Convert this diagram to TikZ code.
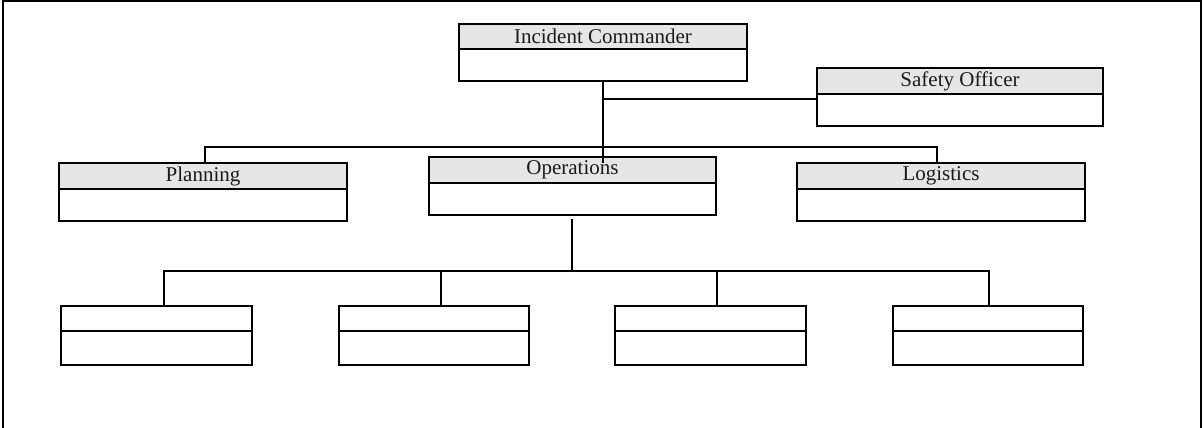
\documentclass[tikz,border=0pt]{standalone}
\usepackage{fontspec}
\setmainfont{Liberation Serif}
\definecolor{hdrgray}{HTML}{E6E6E6}
\definecolor{inkgray}{HTML}{1A1A1A}
\begin{document}
\begin{tikzpicture}[x=1pt,y=-1pt,
  boxpart/.style={draw=black, line width=1.8pt, anchor=north west, inner sep=0pt, outer sep=0pt},
  hdr/.style={boxpart, fill=hdrgray, text=inkgray, font=\fontsize{21}{25}\selectfont},
  plainhdr/.style={boxpart, fill=white},
  bdy/.style={boxpart, fill=white},
  link/.style={line width=1.3pt, line cap=rect},
  framestyle/.style={line width=2pt}]
\useasboundingbox (0,0) rectangle (1204,428);
\draw[framestyle] (3,430) -- (3,1) -- (1201,1) -- (1201,430);

% Incident Commander
\node[hdr, minimum width=288pt, minimum height=25pt] (ich) at (459,24) {Incident Commander};
\node[bdy, minimum width=288pt, minimum height=32pt] (icb) at (459,49) {};
% Safety Officer
\node[hdr, minimum width=286pt, minimum height=26pt] (sfh) at (817,68) {Safety Officer};
\node[bdy, minimum width=286pt, minimum height=32pt] (sfb) at (817,94) {};
% Planning
\node[hdr, minimum width=288pt, minimum height=26pt] (plh) at (59,163) {Planning};
\node[bdy, minimum width=288pt, minimum height=32pt] (plb) at (59,189) {};
% Operations
\node[hdr, minimum width=287pt, minimum height=26pt] (oph) at (429,157) {Operations};
\node[bdy, minimum width=287pt, minimum height=32pt] (opb) at (429,183) {};
% Logistics
\node[hdr, minimum width=288pt, minimum height=26pt] (lgh) at (797,163) {Logistics};
\node[bdy, minimum width=288pt, minimum height=32pt] (lgb) at (797,189) {};
% Bottom boxes
\node[plainhdr, minimum width=191pt, minimum height=25pt] (b1h) at (61,306) {};
\node[bdy, minimum width=191pt, minimum height=34pt] (b1b) at (61,331) {};
\node[plainhdr, minimum width=190pt, minimum height=25pt] (b2h) at (339,306) {};
\node[bdy, minimum width=190pt, minimum height=34pt] (b2b) at (339,331) {};
\node[plainhdr, minimum width=191pt, minimum height=25pt] (b3h) at (615,306) {};
\node[bdy, minimum width=191pt, minimum height=34pt] (b3b) at (615,331) {};
\node[plainhdr, minimum width=190pt, minimum height=25pt] (b4h) at (893,306) {};
\node[bdy, minimum width=190pt, minimum height=34pt] (b4b) at (893,331) {};

% Connectors
\coordinate (icend) at (603,162);
\coordinate (sfj) at (603,99);
\coordinate (busL) at (205,147);
\coordinate (busR) at (937,147);
\coordinate (opj) at (572,220);
\coordinate (opbus) at (572,271);
\coordinate (d1) at (164,271);
\coordinate (d2) at (441,271);
\coordinate (d3) at (717,271);
\coordinate (d4) at (989,271);

\draw[link] (icb.south) -- (icend);
\draw[link] (sfj) -- (sfj -| sfb.west);
\draw[link] (busL |- plh.north) -- (busL) -- (busR) -- (busR |- lgh.north);
\draw[link] (opj) -- (opbus);
\draw[link] (d1 |- b1h.north) -- (d1) -- (d4) -- (d4 |- b4h.north);
\draw[link] (d2) -- (d2 |- b2h.north);
\draw[link] (d3) -- (d3 |- b3h.north);
\end{tikzpicture}
\end{document}
